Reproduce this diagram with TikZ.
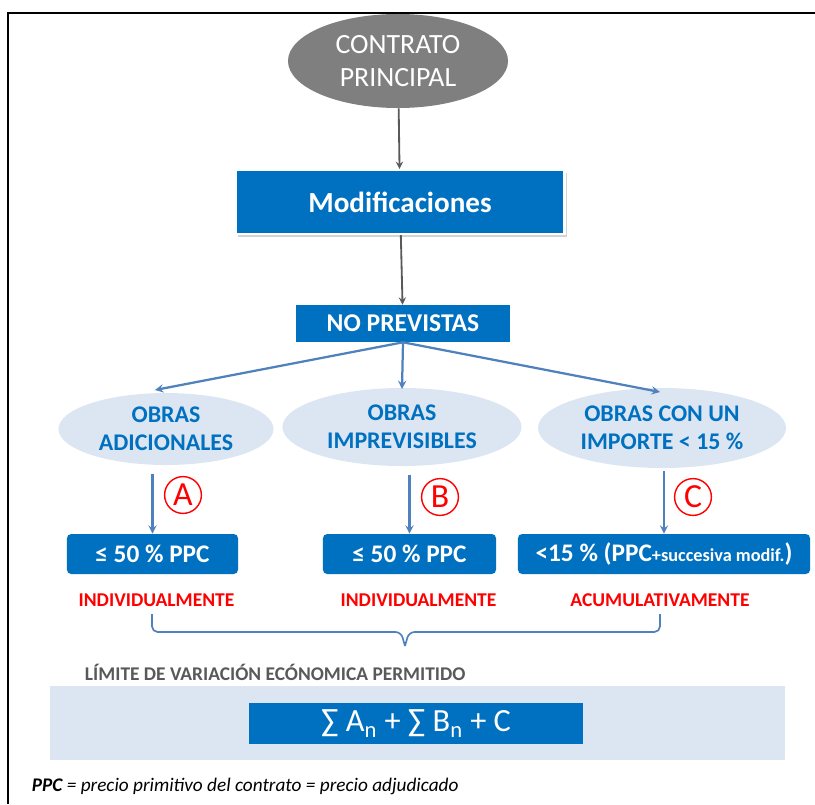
\documentclass[tikz,border=0pt]{standalone}
\usepackage{fontspec}
\setmainfont{Carlito}
\usetikzlibrary{positioning, shapes, arrows, calc, shadows}

\definecolor{boxblue}{HTML}{0070C0}
\definecolor{paleblue}{HTML}{DCE6F2}
\definecolor{steel}{HTML}{4F81BD}
\definecolor{darkgray}{HTML}{595959}
\definecolor{ovalgray}{HTML}{7F7F7F}

\begin{document}
\begin{tikzpicture}[
    x=0.025cm, y=-0.025cm,
    mainbox/.style={rectangle, fill=boxblue, text=white, font=\bfseries\fontsize{20.7}{24}\selectfont, draw=white, line width=1.5pt, drop shadow={opacity=0.35, shadow xshift=0.06cm, shadow yshift=-0.08cm}},
    smallbox/.style={rectangle, fill=boxblue, text=white, font=\bfseries\fontsize{18.2}{21}\selectfont},
    limbox/.style={rectangle, fill=boxblue, text=white, rounded corners=3pt, minimum height=1cm, font=\bfseries\fontsize{18}{21}\selectfont},
    obra/.style={ellipse, fill=paleblue, text=boxblue, align=center, inner sep=0pt, font=\bfseries\fontsize{17}{20}\selectfont},
    letra/.style={circle, draw=red, text=red, line width=1pt, minimum size=0.92cm, inner sep=0pt, font=\fontsize{24}{24}\selectfont},
    redlabel/.style={text=red, font=\bfseries\fontsize{13.9}{16}\selectfont},
    arrow/.style={->, >=stealth, line width=1.6pt, steel},
    grayarrow/.style={->, >=stealth, line width=1.3pt, darkgray}
]
\useasboundingbox (0,0) rectangle (815,804);

% Frame
\draw[line width=2pt] (8,804) -- (8,13) -- (815,13);

% Nodes
\node[ellipse, fill=ovalgray, text=white, minimum width=5.5cm, minimum height=2.35cm, align=center, font=\fontsize{19.8}{23}\selectfont] (contrato) at (398,61) {CONTRATO\\PRINCIPAL};
\node[mainbox, minimum width=8.225cm, minimum height=1.6cm] (modif) at (400,202) {Modificaciones};
\node[smallbox, minimum width=5.35cm, minimum height=0.925cm] (noprev) at (403,323.5) {NO PREVISTAS};

\node[obra, minimum width=5.375cm, minimum height=1.8cm] (adic) at (166,429) {OBRAS\\ADICIONALES};
\node[obra, minimum width=5.975cm, minimum height=1.95cm] (impr) at (402,427) {OBRAS\\IMPREVISIBLES};
\node[obra, minimum width=6.2cm, minimum height=2cm] (impo) at (662,428) {OBRAS CON UN\\IMPORTE < 15 \%};

\node[limbox, minimum width=4.275cm] (lima) at (152.5,554) {≤ 50 \% PPC};
\node[limbox, minimum width=4.325cm] (limb) at (409.5,554) {≤ 50 \% PPC};
\node[limbox, minimum width=7.3cm] (limc) at (664,554) {<15 \% (PPC{\fontsize{13}{15}\selectfont+succesiva modif.})};

\node[letra] (la) at (183,495) {A};
\node[letra] (lb) at (440,497) {B};
\node[letra] (lc) at (693,497) {C};

\node[redlabel] (inda) at (156.5,600) {INDIVIDUALMENTE};
\node[redlabel] (indb) at (418.5,600) {INDIVIDUALMENTE};
\node[redlabel] (acum) at (660,600) {ACUMULATIVAMENTE};

% Brace
\coordinate (bl) at (152,614);
\coordinate (br) at (660,614);
\coordinate (bt) at (405,646);
\draw[steel, line width=1.2pt, rounded corners=4pt] (bl) |- ($(bt)+(-4,-14)$) -- (bt);
\draw[steel, line width=1.2pt, rounded corners=4pt] (br) |- ($(bt)+(4,-14)$) -- (bt);

\node[anchor=west, text=darkgray, font=\bfseries\fontsize{13.8}{16}\selectfont] (limite) at (80,672) {LÍMITE DE VARIACIÓN ECÓNOMICA PERMITIDO};
\fill[paleblue] (50,686) rectangle (785,760);
\node[rectangle, fill=boxblue, text=white, minimum width=8.35cm, minimum height=1.025cm, font=\fontsize{23}{26}\selectfont] (suma) at (416,723.5) {∑ A\textsubscript{n} + ∑ B\textsubscript{n} + C};

\node[anchor=west, font=\itshape\fontsize{13.7}{16}\selectfont] (ppc) at (27,786) {\textbf{PPC} = precio primitivo del contrato = precio adjudicado};

% Connections
\draw[grayarrow] (contrato) -- (modif);
\draw[grayarrow] (modif) -- (noprev);
\draw[arrow] (noprev.south) -- (155,390);
\draw[arrow] (noprev.south) -- (402,389);
\draw[arrow] (noprev.south) -- (660,392);
\draw[arrow, shorten <=6pt] (lima.north |- adic.south) -- (lima.north);
\draw[arrow, shorten <=6pt] (limb.north |- impr.south) -- (limb.north);
\draw[arrow, shorten <=2pt] (limc.north |- impo.south) -- (limc.north);

\end{tikzpicture}
\end{document}
